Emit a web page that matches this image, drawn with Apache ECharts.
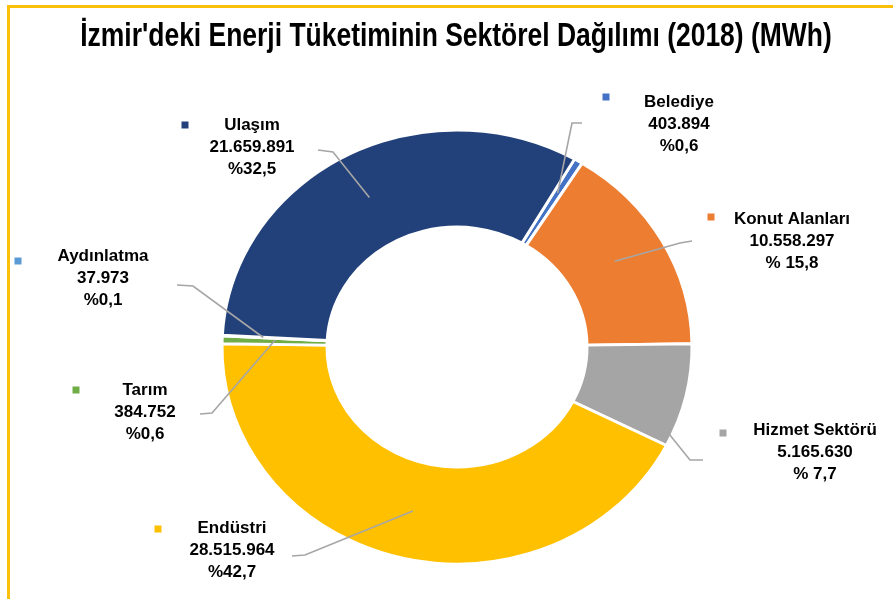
<!DOCTYPE html>
<html lang="tr">
<head>
<meta charset="utf-8">
<title>İzmir'deki Enerji Tüketiminin Sektörel Dağılımı (2018)</title>
<script src="https://cdn.jsdelivr.net/npm/echarts@6/dist/echarts.min.js"></script>
<style>
  html, body { margin: 0; padding: 0; background: #fff; }
  #chart { width: 893px; height: 599px; }
</style>
</head>
<body>
<div id="chart"></div>
<script>
// Sector energy consumption in İzmir, 2018 (MWh), clockwise from the top-right
const sectors = ['Belediye', 'Konut Alanları', 'Hizmet Sektörü', 'Endüstri', 'Tarım', 'Aydınlatma', 'Ulaşım'];
const consumption = [403894, 10558297, 5165630, 28515964, 384752, 37973, 21659891];
const shareLabels = ['%0,6', '% 15,8', '% 7,7', '%42,7', '%0,6', '%0,1', '%32,5'];
const sectorColors = ['#4472C4', '#ED7D31', '#A5A5A5', '#FFC000', '#70AD47', '#5B9BD5', '#22417A'];

// Ring geometry: an oval ring (horizontal radii, vertical squash factor)
const CX = 457, CY = 347, R_IN = 130, R_OUT = 235, SQUASH = 217 / 235, START = 60;

// Callouts: text top-centre, colour key centre, leader end/bend,
// and where each leader enters its slice (fraction along the arc, radius)
const callouts = {
  'Belediye':       { x: 679, y: 91,  key: [606, 97],  end: [582, 123], bend: [572, 123], at: 0.5,  r: 195 },
  'Konut Alanları': { x: 792, y: 208, key: [711, 217], end: [692, 241], bend: [680, 243], at: 0.48, r: 183 },
  'Hizmet Sektörü': { x: 815, y: 419, key: [723, 433], end: [703, 460], bend: [690, 460], at: 0.88, r: 230 },
  'Endüstri':       { x: 232, y: 517, key: [158, 529], end: [292, 556], bend: [305, 555], at: 0.5,  r: 183 },
  'Tarım':          { x: 145, y: 379, key: [76, 390],  end: [200, 414], bend: [212, 413], at: 0.74, r: 182 },
  'Aydınlatma':     { x: 103, y: 245, key: [18, 261],  end: [177, 285], bend: [193, 286], at: 0.5,  r: 194 },
  'Ulaşım':         { x: 252, y: 114, key: [185, 125], end: [318, 150], bend: [333, 152], at: 0.5,  r: 184 }
};

const total = consumption.reduce((a, b) => a + b, 0);
const before = consumption.map((_, i) => consumption.slice(0, i).reduce((a, b) => a + b, 0));
const fmt = v => String(v).replace(/\B(?=(\d{3})+(?!\d))/g, '.');
const FONT = '"Liberation Sans", Arial, Helvetica, sans-serif';
const DEG = Math.PI / 180;
const KEY = 7;

// angle in degrees, counter-clockwise from 3 o'clock, of a running total
const angleAt = cum => START - cum / total * 360;

function renderSlice(params, api) {
  const i = params.dataIndex;
  const value = api.value(0);
  const cum = api.value(1);
  const a0 = angleAt(cum);
  const a1 = angleAt(cum + value);
  const name = sectors[i];
  const c = callouts[name];

  const am = angleAt(cum + value * c.at) * DEG;
  const inner = [CX + c.r * Math.cos(am), CY - c.r * SQUASH * Math.sin(am)];

  return {
    type: 'group',
    children: [
      {
        type: 'sector',
        originX: CX, originY: CY, scaleY: SQUASH,
        shape: { cx: CX, cy: CY, r0: R_IN, r: R_OUT, startAngle: -a0 * DEG, endAngle: -a1 * DEG, clockwise: true },
        style: { fill: sectorColors[i], stroke: '#ffffff', lineWidth: 3 }
      },
      {
        type: 'polyline', z2: 10, silent: true,
        shape: { points: [inner, c.bend, c.end] },
        style: { stroke: '#A6A6A6', lineWidth: 1.6, fill: null }
      },
      {
        type: 'rect', z2: 20, silent: true,
        shape: { x: c.key[0] - KEY / 2, y: c.key[1] - KEY / 2, width: KEY, height: KEY },
        style: { fill: sectorColors[i] }
      },
      {
        type: 'text', z2: 20, x: c.x, y: c.y,
        style: {
          text: name + '\n' + fmt(value) + '\n' + shareLabels[i],
          align: 'center', verticalAlign: 'top',
          fill: '#000', font: 'bold 17px ' + FONT, lineHeight: 22
        }
      }
    ]
  };
}

const chart = echarts.init(document.getElementById('chart'), null, { renderer: 'canvas' });

chart.setOption({
  backgroundColor: '#ffffff',
  animation: false,
  graphic: [
    // golden frame, top and left edges
    { type: 'rect', shape: { x: 7, y: 5, width: 886, height: 3 }, style: { fill: '#FBC00A' } },
    { type: 'rect', shape: { x: 7, y: 5, width: 3, height: 594 }, style: { fill: '#FBC00A' } },
    {
      type: 'text', x: 456, y: 37, scaleX: 0.778,
      style: {
        text: "İzmir'deki Enerji Tüketiminin Sektörel Dağılımı (2018) (MWh)",
        x: 0, y: 0, align: 'center', verticalAlign: 'middle',
        font: 'bold 34px ' + FONT, fill: '#000'
      }
    }
  ],
  series: [{
    type: 'custom',
    name: 'Enerji Tüketimi (MWh)',
    coordinateSystem: 'none',
    renderItem: renderSlice,
    data: consumption.map((v, i) => ({ name: sectors[i], value: [v, before[i]] }))
  }]
});
</script>
</body>
</html>
